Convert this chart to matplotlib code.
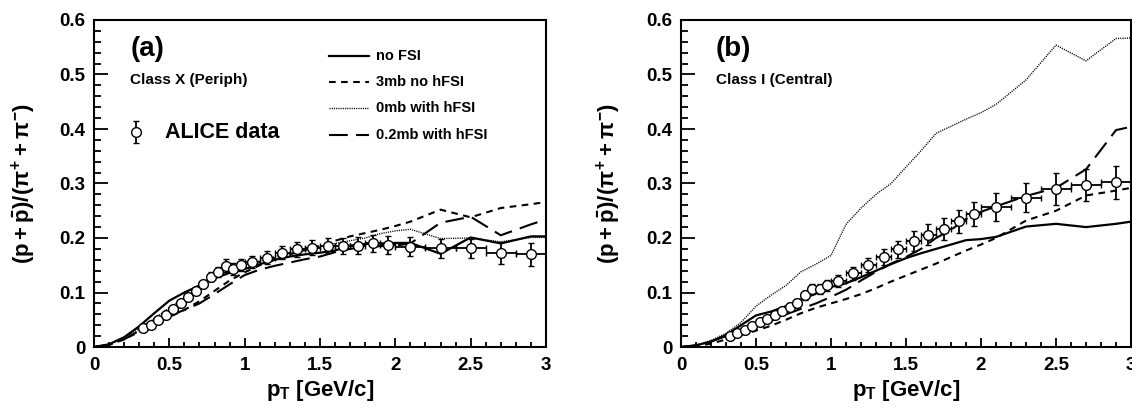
import numpy as np
import matplotlib
matplotlib.use("Agg")
import matplotlib.pyplot as plt
from matplotlib.ticker import MultipleLocator, FuncFormatter
from matplotlib.lines import Line2D

plt.rcParams['font.family'] = ['Liberation Sans', 'DejaVu Sans']
plt.rcParams['font.weight'] = 'bold'
plt.rcParams['axes.labelweight'] = 'bold'
plt.rcParams['mathtext.fontset'] = 'custom'
plt.rcParams['mathtext.rm'] = 'Liberation Sans:bold'
plt.rcParams['mathtext.it'] = 'Liberation Sans:bold'
plt.rcParams['mathtext.bf'] = 'Liberation Sans:bold'
plt.rcParams['mathtext.sf'] = 'Liberation Sans:bold'

# ---- ALICE data: bin centres, half widths ----
data_pt = [0.325, 0.375, 0.425, 0.475, 0.525, 0.575, 0.625, 0.675, 0.725, 0.775,
           0.825, 0.875, 0.925, 0.975, 1.05, 1.15, 1.25, 1.35, 1.45, 1.55,
           1.65, 1.75, 1.85, 1.95, 2.1, 2.3, 2.5, 2.7, 2.9]
data_pt_err = [0.025] * 14 + [0.05] * 10 + [0.1] * 5

# Class X (peripheral)
alice_periph = [0.034, 0.040, 0.049, 0.058, 0.070, 0.080, 0.092, 0.103, 0.115, 0.129,
                0.138, 0.149, 0.144, 0.150, 0.156, 0.164, 0.173, 0.179, 0.182, 0.186,
                0.185, 0.186, 0.190, 0.187, 0.184, 0.181, 0.181, 0.173, 0.170]
alice_periph_err = [0.003, 0.003, 0.004, 0.004, 0.005, 0.005, 0.006, 0.006, 0.007, 0.008,
                    0.009, 0.012, 0.011, 0.011, 0.011, 0.012, 0.012, 0.014, 0.014, 0.014,
                    0.015, 0.016, 0.016, 0.016, 0.017, 0.017, 0.018, 0.020, 0.021]

# Class I (central)
alice_central = [0.020, 0.025, 0.031, 0.038, 0.045, 0.052, 0.059, 0.066, 0.073, 0.081,
                 0.095, 0.107, 0.107, 0.113, 0.122, 0.135, 0.150, 0.165, 0.179, 0.195,
                 0.206, 0.217, 0.231, 0.244, 0.257, 0.274, 0.290, 0.297, 0.302]
alice_central_err = [0.003, 0.003, 0.004, 0.004, 0.005, 0.005, 0.006, 0.006, 0.007, 0.007,
                     0.008, 0.009, 0.009, 0.010, 0.011, 0.012, 0.013, 0.015, 0.016, 0.018,
                     0.019, 0.020, 0.021, 0.022, 0.025, 0.026, 0.029, 0.030, 0.031]

# ---- model curves ----
model_pt = [0.0, 0.1, 0.2, 0.3, 0.4, 0.5, 0.6, 0.7, 0.8, 0.9, 1.0,
            1.1, 1.2, 1.3, 1.4, 1.5, 1.6, 1.7, 1.8, 1.9, 2.0,
            2.1, 2.3, 2.5, 2.7, 2.9, 3.0]

periph_noFSI = [0.0, 0.005, 0.018, 0.038, 0.062, 0.085, 0.100, 0.113, 0.126, 0.136, 0.143,
                0.152, 0.160, 0.166, 0.170, 0.173, 0.177, 0.186, 0.189, 0.190, 0.191,
                0.191, 0.171, 0.201, 0.190, 0.203, 0.203]
periph_3mb = [0.0, 0.004, 0.014, 0.028, 0.042, 0.055, 0.068, 0.084, 0.103, 0.122, 0.137,
              0.150, 0.160, 0.170, 0.178, 0.186, 0.195, 0.203, 0.209, 0.215, 0.222,
              0.230, 0.252, 0.238, 0.255, 0.262, 0.266]
periph_0mb = [0.0, 0.005, 0.016, 0.034, 0.052, 0.072, 0.090, 0.108, 0.125, 0.140, 0.150,
              0.158, 0.166, 0.172, 0.178, 0.184, 0.190, 0.195, 0.200, 0.208, 0.213,
              0.216, 0.199, 0.200, 0.193, 0.201, 0.201]
periph_02mb = [0.0, 0.004, 0.014, 0.030, 0.044, 0.057, 0.068, 0.080, 0.097, 0.115, 0.132,
               0.142, 0.149, 0.155, 0.161, 0.166, 0.174, 0.180, 0.184, 0.185, 0.186,
               0.190, 0.228, 0.239, 0.205, 0.225, 0.234]

central_noFSI = [0.0, 0.003, 0.010, 0.022, 0.040, 0.058, 0.065, 0.075, 0.087, 0.098, 0.110,
                 0.117, 0.128, 0.140, 0.152, 0.163, 0.172, 0.180, 0.188, 0.196, 0.198,
                 0.202, 0.221, 0.226, 0.220, 0.226, 0.230]
central_3mb = [0.0, 0.002, 0.006, 0.014, 0.022, 0.030, 0.039, 0.050, 0.062, 0.072, 0.080,
               0.088, 0.097, 0.108, 0.120, 0.131, 0.142, 0.153, 0.165, 0.177, 0.188,
               0.200, 0.232, 0.250, 0.278, 0.287, 0.292]
central_0mb = [0.0, 0.003, 0.012, 0.025, 0.045, 0.075, 0.095, 0.113, 0.138, 0.152, 0.168,
               0.225, 0.255, 0.280, 0.300, 0.330, 0.360, 0.392, 0.405, 0.418, 0.430,
               0.445, 0.490, 0.554, 0.525, 0.566, 0.567]
central_02mb = [0.0, 0.003, 0.010, 0.020, 0.030, 0.038, 0.048, 0.060, 0.070, 0.080, 0.092,
                0.105, 0.122, 0.138, 0.153, 0.165, 0.180, 0.200, 0.215, 0.235, 0.248,
                0.258, 0.277, 0.292, 0.326, 0.398, 0.404]

legend_labels = ['no FSI', '3mb no hFSI', '0mb with hFSI', '0.2mb with hFSI']

styles = [
    dict(ls='-', lw=1.6),
    dict(ls=(0, (3.2, 2.6)), lw=1.5),
    dict(ls=(0, (0.8, 0.8)), lw=1.0),
    dict(ls=(0, (9, 4)), lw=1.5),
]

fig = plt.figure(figsize=(11.32, 4.16), dpi=100)
ax_a = fig.add_axes([94 / 1132, 69 / 416, 452 / 1132, 327 / 416])
ax_b = fig.add_axes([681 / 1132, 69 / 416, 450 / 1132, 327 / 416])

fmt = FuncFormatter(lambda v, p: f'{v:g}')
ylab = r'$(p+\bar{p})/(\pi^{+}+\pi^{-})$'
xlab = r'$p_{T}$ [GeV/c]'


def setup(ax, ylab_x):
    ax.set_xlim(0, 3)
    ax.set_ylim(0, 0.6)
    ax.xaxis.set_major_locator(MultipleLocator(0.5))
    ax.xaxis.set_minor_locator(MultipleLocator(0.1))
    ax.yaxis.set_major_locator(MultipleLocator(0.1))
    ax.yaxis.set_minor_locator(MultipleLocator(0.02))
    ax.xaxis.set_major_formatter(fmt)
    ax.yaxis.set_major_formatter(fmt)
    ax.tick_params(axis='both', which='both', direction='in', top=False, right=False,
                   width=1.3, labelsize=13.5)
    ax.tick_params(axis='y', which='major', length=10, pad=6)
    ax.tick_params(axis='y', which='minor', length=5)
    ax.tick_params(axis='x', which='major', length=6.5, pad=7)
    ax.tick_params(axis='x', which='minor', length=3.3)
    for lab in ax.get_xticklabels() + ax.get_yticklabels():
        lab.set_fontweight('bold')
    for s in ax.spines.values():
        s.set_linewidth(1.5)
    ax.set_xlabel(xlab, fontsize=16, fontweight='bold')
    ax.xaxis.label.set_verticalalignment('baseline')
    ax.xaxis.set_label_coords(0.5, -0.150)
    ax.set_ylabel(ylab, fontsize=16, fontweight='bold')
    ax.yaxis.label.set_verticalalignment('center')
    ax.yaxis.set_label_coords(ylab_x, 0.5)


def draw(ax, curves, vals, errs):
    for c, st in zip(curves, styles):
        ax.plot(model_pt, c, color='black', solid_capstyle='butt',
                dash_capstyle='butt', **st)
    ax.errorbar(data_pt, vals, yerr=errs, xerr=data_pt_err, fmt='o', color='black',
                mfc='white', mec='black', ms=7, mew=1.0, elinewidth=1.3,
                capsize=2.5, capthick=1.3, zorder=5)


setup(ax_a, -0.155)
setup(ax_b, -0.160)

draw(ax_a, [periph_noFSI, periph_3mb, periph_0mb, periph_02mb],
     alice_periph, alice_periph_err)
draw(ax_b, [central_noFSI, central_3mb, central_0mb, central_02mb],
     alice_central, alice_central_err)

# panel tags and centrality class
ax_a.text(0.080, 0.911, '(a)', transform=ax_a.transAxes, fontsize=20,
          fontweight='bold', va='center', ha='left')
ax_a.text(0.080, 0.817, 'Class X (Periph)', transform=ax_a.transAxes, fontsize=11,
          fontweight='bold', va='center', ha='left')
ax_b.text(0.078, 0.911, '(b)', transform=ax_b.transAxes, fontsize=20,
          fontweight='bold', va='center', ha='left')
ax_b.text(0.078, 0.817, 'Class I (Central)', transform=ax_b.transAxes, fontsize=11,
          fontweight='bold', va='center', ha='left')

# model legend
rows_y = [0.890, 0.810, 0.731, 0.648]
for yy, st, lab in zip(rows_y, styles, legend_labels):
    ax_a.add_line(Line2D([0.520, 0.608], [yy, yy], transform=ax_a.transAxes,
                         color='black', dash_capstyle='butt', **st))
    ax_a.text(0.624, yy, lab, transform=ax_a.transAxes, fontsize=10.5,
              fontweight='bold', va='center', ha='left')

# data legend
ax_a.errorbar([0.093], [0.657], yerr=[0.034], fmt='o', color='black', mfc='white',
              mec='black', ms=7, mew=1.0, elinewidth=1.3, capsize=2.5, capthick=1.3,
              transform=ax_a.transAxes, clip_on=False)
ax_a.text(0.157, 0.657, 'ALICE data', transform=ax_a.transAxes, fontsize=15.5,
          fontweight='bold', va='center', ha='left')

fig.savefig('out.png', dpi=100)
